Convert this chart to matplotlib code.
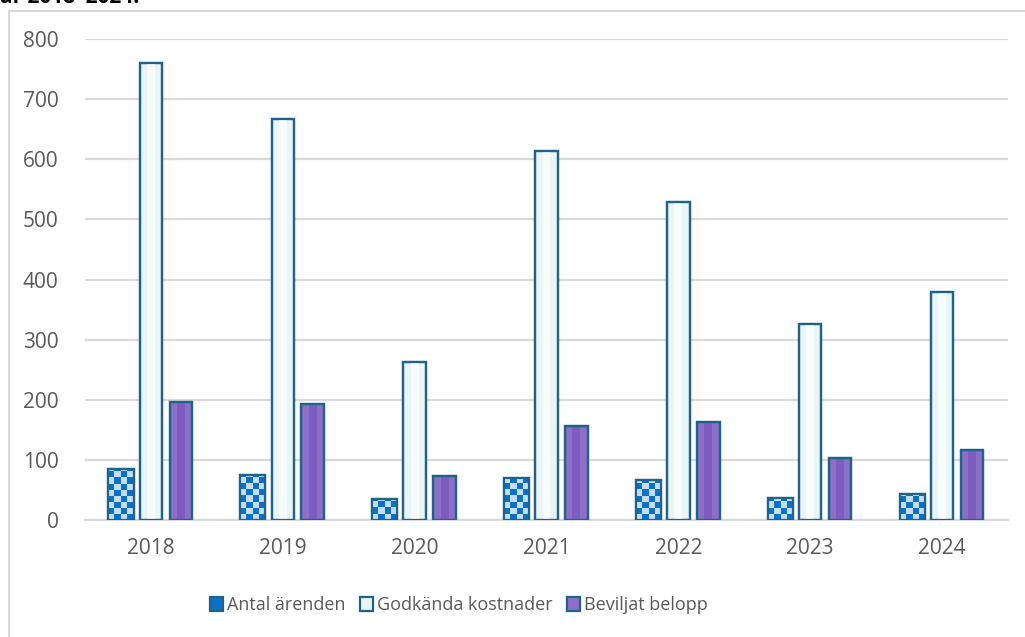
import numpy as np
import matplotlib.pyplot as plt
from matplotlib.patches import Rectangle
from matplotlib.colors import ListedColormap

# Data
years = ['2018', '2019', '2020', '2021', '2022', '2023', '2024']
antal = [84, 75, 35, 70, 67, 37, 43]
godkanda = [760, 667, 263, 614, 529, 326, 379]
beviljat = [196, 193, 73, 156, 163, 103, 116]
labels = ['Antal ärenden', 'Godkända kostnader', 'Beviljat belopp']

plt.rcParams['font.family'] = ['Open Sans', 'DejaVu Sans']
text_col = '#595959'
edge_col = '#1F6388'

fig = plt.figure(figsize=(10.25, 6.37), dpi=100)
ax = fig.add_axes([85 / 1025, 1 - 520 / 637, (1008 - 85) / 1025, 481 / 637])

# outer frame (top + left visible, the rest runs off the image)
fig.add_artist(Rectangle((9 / 1025, -0.1), 1.2, 1 - 11 / 637 + 0.1,
                         transform=fig.transFigure, fill=False,
                         edgecolor='#D9D9D9', linewidth=1.5))
# title line above the frame, cut off by the image edge as in the reference
fig.text(0.0, 1 - 3 / 637, 'år 2018–2024.', fontsize=15, fontweight='bold',
         va='baseline', ha='left', color='black')

x = np.arange(len(years))
w = 0.19
step = 0.227

b1 = ax.bar(x - step, antal, w, color='#BDD7EE', edgecolor=edge_col, linewidth=1.6, zorder=3)
b2 = ax.bar(x, godkanda, w * 0.9, color='#EAF5F7', edgecolor=edge_col, linewidth=1.6, zorder=3)
b3 = ax.bar(x + step, beviljat, w * 0.9, color='#8C70C8', edgecolor=edge_col, linewidth=1.6, zorder=3)

# checkerboard fill for "Antal ärenden"
checker_cmap = ListedColormap(['#C5DDF0', '#0A70C8'])
cell_y = 10.0
for rect, v in zip(b1, antal):
    x0 = rect.get_x()
    nrows = int(np.ceil(v / cell_y))
    ncols = 4
    grid = np.add.outer(np.arange(nrows)[::-1], np.arange(ncols)) % 2
    im = ax.imshow(grid, cmap=checker_cmap, extent=(x0, x0 + w, 0, nrows * cell_y),
                   origin='upper', aspect='auto', interpolation='nearest', zorder=3.5)
    im.set_clip_path(rect)
    ax.add_patch(Rectangle((x0, 0), w, v, fill=False, edgecolor=edge_col, linewidth=1.6, zorder=4))

# subtle centre stripes for the other two series
for bars, vals, col in [(b2, godkanda, '#F6FBFC'), (b3, beviljat, '#7E5CBF')]:
    for rect, v in zip(bars, vals):
        bw = rect.get_width()
        ax.bar(rect.get_x() + bw / 2, v, bw * 0.35, color=col, linewidth=0, zorder=3.2)
        ax.add_patch(Rectangle((rect.get_x(), 0), bw, v, fill=False, edgecolor=edge_col, linewidth=1.6, zorder=4))

ax.set_xlim(-0.5, len(years) - 0.5)
ax.set_ylim(0, 800)
ax.set_yticks(range(0, 801, 100))
ax.set_xticks(x)
ax.set_xticklabels(years)
ax.yaxis.grid(True, color='#D9D9D9', linewidth=1.6, zorder=0)
ax.set_axisbelow(True)
for s in ['top', 'right', 'left']:
    ax.spines[s].set_visible(False)
ax.spines['bottom'].set_color('#D9D9D9')
ax.spines['bottom'].set_linewidth(1.6)
ax.tick_params(axis='both', length=0, labelsize=15, labelcolor=text_col)
ax.tick_params(axis='y', pad=19)
ax.tick_params(axis='x', pad=13)

handles = [Rectangle((0, 0), 1, 1, facecolor='#0A70C8', edgecolor=edge_col, linewidth=1.6),
           Rectangle((0, 0), 1, 1, facecolor='#EAF5F7', edgecolor=edge_col, linewidth=1.6),
           Rectangle((0, 0), 1, 1, facecolor='#8C70C8', edgecolor=edge_col, linewidth=1.6)]
leg = fig.legend(handles, labels, loc='center', bbox_to_anchor=(459 / 1025, 1 - 605 / 637),
                 ncol=3, frameon=False, fontsize=13, handlelength=0.7, handleheight=0.8,
                 handletextpad=0.25, columnspacing=0.8)
for t in leg.get_texts():
    t.set_color(text_col)

fig.savefig('out.png', dpi=100)
